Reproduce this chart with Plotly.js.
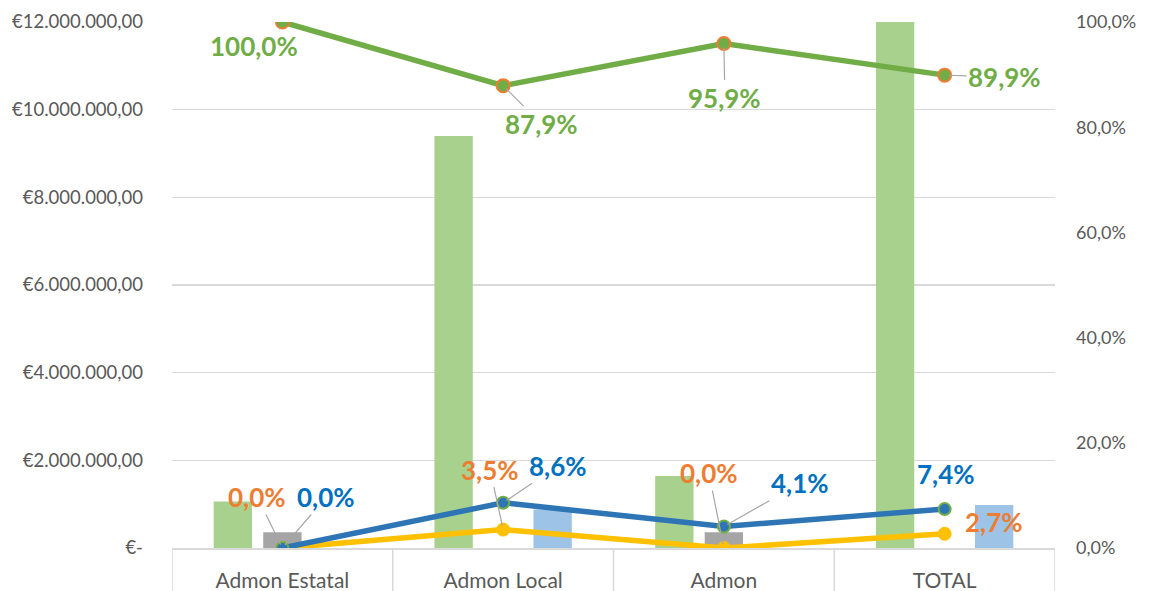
<!DOCTYPE html>
<html>
<head>
<meta charset="utf-8">
<script src="https://cdn.plot.ly/plotly-3.0.1.min.js"></script>
<style>
html,body{margin:0;padding:0;background:#fff;overflow:hidden;}
#chart{width:1156px;height:591px;}
</style>
</head>
<body>
<div id="chart"></div>
<script>
// ---- data ----
var categories = ['Admon Estatal', 'Admon Local', 'Admon Autonómica', 'TOTAL'];
var categoryLabels = ['Admon Estatal', 'Admon Local', 'Admon<br>Autonómica', 'TOTAL'];

var greenBars = [1060000, 9400000, 1640000, 12100000];
var greyBars  = [360000, 0, 360000, 0];
var blueBars  = [0, 880000, 0, 980000];

var greenPct  = [100.0, 87.9, 95.9, 89.9];
var bluePct   = [0.0, 8.6, 4.1, 7.4];
var yellowPct = [0.0, 3.5, 0.0, 2.7];

var leftTicks  = [0, 2000000, 4000000, 6000000, 8000000, 10000000, 12000000];
var rightTicks = [0, 20, 40, 60, 80, 100];

// ---- helpers ----
function euro(v){
  if (v === 0) return '€-';
  var s = Math.round(v).toString().replace(/\B(?=(\d{3})+(?!\d))/g, '.');
  return '€' + s + ',00';
}
function pct(v){ return v.toFixed(1).replace('.', ',') + '%'; }

var FONT = 'Lato, "Open Sans", sans-serif';
var C_GREEN = '#70AD47', C_ORANGE = '#ED7D31', C_BLUE = '#2E75B6', C_BLUE_T = '#0070C0', C_YELLOW = '#FFC000';

var traces = [
  {type:'bar', x:categories, y:greenBars, marker:{color:'#A9D18E'}, hoverinfo:'skip'},
  {type:'bar', x:categories, y:greyBars,  marker:{color:'#A5A5A5'}, hoverinfo:'skip'},
  {type:'bar', x:categories, y:blueBars,  marker:{color:'#9DC3E6'}, hoverinfo:'skip'},
  {type:'scatter', mode:'lines+markers', x:categories, y:yellowPct, yaxis:'y2',
   line:{color:C_YELLOW, width:5.5}, marker:{size:13, color:C_YELLOW, line:{color:C_YELLOW, width:1}}, hoverinfo:'skip'},
  {type:'scatter', mode:'lines+markers', x:categories, y:bluePct, yaxis:'y2',
   line:{color:C_BLUE, width:5.5}, marker:{size:12, color:C_BLUE, line:{color:C_GREEN, width:2}}, hoverinfo:'skip'},
  {type:'scatter', mode:'lines+markers', x:categories, y:greenPct, yaxis:'y2',
   line:{color:C_GREEN, width:5.5}, marker:{size:13, color:C_GREEN, line:{color:C_ORANGE, width:2}}, hoverinfo:'skip'}
];

// label placement (styling): [ax, ay, showLeader]
var greenPos  = [[-28, 24, false], [38, 38, true], [1, 54, true], [60, 2, true]];
var yellowPos = [[-25, -51, true], [-13, -60, true], [-15, -75, true], [49, -12, false]];
var bluePos   = [[44, -51, true], [55, -37, true], [76, -43, true], [1, -35, false]];

var annotations = [];
function addLabels(vals, pos, color){
  vals.forEach(function(v, i){
    annotations.push({
      x: categories[i], y: v, xref:'x', yref:'y2',
      text: pct(v), showarrow:true, arrowhead:0, arrowwidth:1.2,
      arrowcolor: pos[i][2] ? '#A6A6A6' : 'rgba(0,0,0,0)',
      ax: pos[i][0], ay: pos[i][1], standoff:4,
      font:{family:FONT, size:26, color:color, weight:'bold'}
    });
  });
}
addLabels(greenPct, greenPos, C_GREEN);
addLabels(yellowPct, yellowPos, C_ORANGE);
addLabels(bluePct, bluePos, C_BLUE_T);

// category box separators below the axis
var shapes = [];
for (var k = 0; k <= categories.length; k++){
  shapes.push({type:'line', xref:'x', yref:'paper', x0:k-0.5, x1:k-0.5, y0:0, y1:-0.2,
               line:{color:'#D9D9D9', width:1.5}, layer:'below'});
}

var layout = {
  width:1156, height:591,
  margin:{l:172, r:101, t:22, b:43, pad:0},
  paper_bgcolor:'#fff', plot_bgcolor:'#fff',
  separators:',.',
  showlegend:false,
  barmode:'group', bargap:0.327, bargroupgap:0.226,
  font:{family:FONT, color:'#595959'},
  xaxis:{type:'category', range:[-0.5, 3.5], tickvals:categories, ticktext:categoryLabels,
         showline:true, linecolor:'#D9D9D9', linewidth:1.5, showgrid:false, ticks:'',
         tickfont:{family:FONT, size:21, color:'#595959'}, ticklabelstandoff:13, fixedrange:true},
  yaxis:{range:[0, 12000000], tickvals:leftTicks, ticktext:leftTicks.map(euro),
         showgrid:true, gridcolor:'#D9D9D9', gridwidth:1.2, zeroline:false, ticks:'',
         tickfont:{family:FONT, size:18.5, color:'#595959'}, ticklabelstandoff:28, fixedrange:true},
  yaxis2:{overlaying:'y', side:'right', range:[0, 100], tickvals:rightTicks,
          ticktext:rightTicks.map(pct), showgrid:false, zeroline:false, ticks:'',
          tickfont:{family:FONT, size:18, color:'#595959'}, ticklabelstandoff:20, fixedrange:true},
  annotations:annotations,
  shapes:shapes
};

Plotly.newPlot('chart', traces, layout, {displayModeBar:false, staticPlot:true});
</script>
</body>
</html>
